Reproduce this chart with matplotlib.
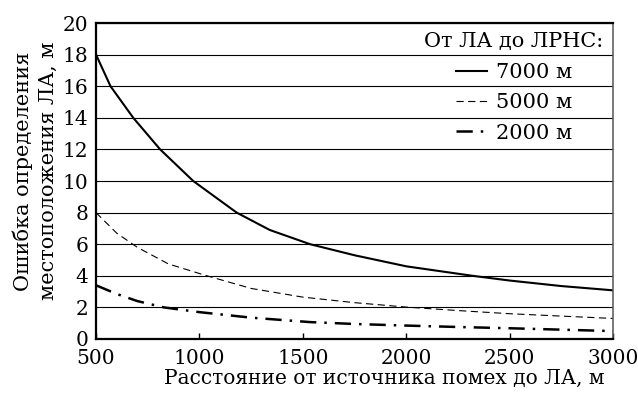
import matplotlib
matplotlib.use("Agg")
import matplotlib.pyplot as plt

# Расстояние от источника помех до ЛА, м
x_7000 = [500, 570, 680, 810, 970, 1180, 1340, 1535, 1750, 2000, 2320, 2500, 2750, 3000]
y_7000 = [18.0, 16.0, 14.0, 12.0, 10.0, 8.0, 6.9, 6.0, 5.3, 4.6, 4.0, 3.7, 3.35, 3.08]

x_5000 = [500, 600, 700, 850, 1036, 1250, 1500, 1750, 2000, 2250, 2500, 2750, 3000]
y_5000 = [8.0, 6.7, 5.8, 4.75, 4.0, 3.2, 2.65, 2.3, 2.02, 1.8, 1.6, 1.45, 1.3]

x_2000 = [500, 600, 700, 828, 1000, 1250, 1535, 1750, 2000, 2250, 2500, 2750, 3000]
y_2000 = [3.4, 2.85, 2.4, 2.0, 1.7, 1.35, 1.07, 0.95, 0.85, 0.76, 0.68, 0.59, 0.5]

x_ticks = [500, 1000, 1500, 2000, 2500, 3000]
y_ticks = [0, 2, 4, 6, 8, 10, 12, 14, 16, 18, 20]

plt.rcParams['font.family'] = ['DejaVu Serif']

fig = plt.figure(figsize=(6.38, 3.94), dpi=100)
ax = fig.add_axes([0.1505, 0.1396, 0.961 - 0.1505, 0.9416 - 0.1396])

ax.plot(x_7000, y_7000, color="black", lw=1.5, label="7000 м")
ax.plot(x_5000, y_5000, color="black", lw=0.8, dashes=(6.5, 4), label="5000 м")
ax.plot(x_2000, y_2000, color="black", lw=1.8, dashes=(6.5, 3.2, 1, 3.2), label="2000 м")

ax.set_xlim(500, 3000)
ax.set_ylim(0, 20)
ax.set_xticks(x_ticks)
ax.set_yticks(y_ticks)
ax.yaxis.grid(True, color="black", lw=0.8)
ax.set_axisbelow(True)

ax.tick_params(axis="x", direction="in", length=4, width=1, pad=7.5, labelsize=14.5)
ax.tick_params(axis="y", length=0, pad=5.5, labelsize=14.5)

for side in ["left", "bottom", "top"]:
    ax.spines[side].set_linewidth(1.6)
ax.spines["right"].set_linewidth(1.1)
ax.spines["right"].set_color("#555555")

ax.set_xlabel("Расстояние от источника помех до ЛА, м", fontsize=14.5, labelpad=2)
ax.xaxis.set_label_coords(0.558, -0.095)
fig.text(0.055, 0.566, "Ошибка определения\nместоположения ЛА, м", rotation=90,
         fontsize=15, ha="center", va="center", multialignment="center",
         linespacing=1.4)

leg = ax.legend(loc="upper right", title="От ЛА до ЛРНС:", frameon=False,
                fontsize=15, title_fontsize=15, handlelength=1.5,
                handletextpad=0.4, labelspacing=0.55, alignment="center",
                borderaxespad=0.05, borderpad=0.4)

fig.savefig("out.png", dpi=100)
